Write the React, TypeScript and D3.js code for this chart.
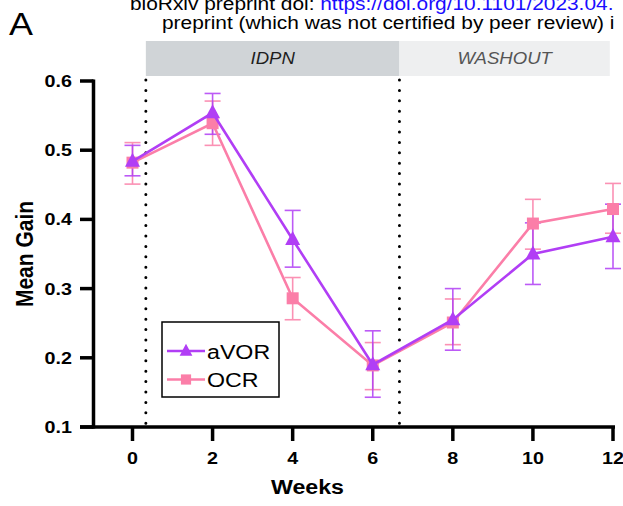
import React from "react";
import * as d3 from "d3";

const weeks = [0, 2, 4, 6, 8, 10, 12];
const avorMean = [0.484, 0.554, 0.371, 0.19, 0.255, 0.35, 0.375];
const avorLow = [0.463, 0.523, 0.331, 0.143, 0.211, 0.306, 0.329];
const avorHigh = [0.507, 0.582, 0.413, 0.239, 0.3, 0.395, 0.422];
const ocrMean = [0.482, 0.539, 0.286, 0.189, 0.251, 0.394, 0.415];
const ocrLow = [0.451, 0.507, 0.255, 0.154, 0.219, 0.357, 0.38];
const ocrHigh = [0.511, 0.571, 0.316, 0.222, 0.285, 0.429, 0.452];
const yTicks = [0.1, 0.2, 0.3, 0.4, 0.5, 0.6];
const xTicks = [0, 2, 4, 6, 8, 10, 12];
const phases = [
  { label: "IDPN", start: 1 / 3, end: 20 / 3 },
  { label: "WASHOUT", start: 20 / 3, end: 11.92 },
];
const dividers = [1 / 3, 20 / 3];

const PURPLE = "#b13ef5";
const PINK = "#fb7ea8";
const FONT = "'Liberation Sans', Arial, sans-serif";
const SX = 1.16;

type TProps = {
  x: number;
  y: number;
  children: React.ReactNode;
  size: number;
  anchor?: string;
  weight?: string;
  style?: string;
  fill?: string;
};

function T({ x, y, children, size, anchor = "start", weight = "normal", style = "normal", fill = "#000" }: TProps) {
  return (
    <text
      transform={`translate(${x},${y}) scale(${SX},1)`}
      fontSize={size}
      textAnchor={anchor}
      fontWeight={weight}
      fontStyle={style}
      fill={fill}
    >
      {children}
    </text>
  );
}

export default function App() {
  const x = d3.scaleLinear().domain([0, 12]).range([132.5, 613]);
  const y = d3.scaleLinear().domain([0.1, 0.6]).range([427, 81]);
  const axisX0 = 93.5;
  const line = d3
    .line<number>()
    .x((_, i) => x(weeks[i]))
    .y((d) => y(d));

  const series = [
    { name: "aVOR", mean: avorMean, low: avorLow, high: avorHigh, color: PURPLE, marker: "tri" },
    { name: "OCR", mean: ocrMean, low: ocrLow, high: ocrHigh, color: PINK, marker: "sq" },
  ];
  const drawOrder = [series[1], series[0]];

  const marker = (m: string, cx: number, cy: number, color: string, s = 1) =>
    m === "tri" ? (
      <path
        d={`M${cx},${cy - 8.5 * s} L${cx + 7.5 * s},${cy + 5.5 * s} L${cx - 7.5 * s},${cy + 5.5 * s} Z`}
        fill={color}
      />
    ) : (
      <rect x={cx - 6 * s} y={cy - 6 * s} width={12 * s} height={12 * s} fill={color} />
    );

  return (
    <svg
      width={623}
      height={506}
      style={{ position: "absolute", left: 0, top: 0, background: "#fff" }}
      fontFamily={FONT}
    >
      <rect width={623} height={506} fill="#fff" />
      {/* header text */}
      <T x={130} y={9.5} size={18}>
        bioRxiv preprint doi: <tspan fill="#1a0dff">https://doi.org/10.1101/2023.04.</tspan>
      </T>
      <T x={162} y={28.5} size={18}>
        preprint (which was not certified by peer review) i
      </T>
      <T x={9} y={35} size={31}>
        A
      </T>

      {/* phase bands */}
      {phases.map((p, i) => (
        <g key={p.label}>
          <rect
            x={x(p.start)}
            y={41}
            width={x(p.end) - x(p.start)}
            height={35}
            fill={i === 0 ? "#d0d4d7" : "#eeeff0"}
          />
          <T
            x={(x(p.start) + x(p.end)) / 2}
            y={63.5}
            anchor="middle"
            size={16}
            style="italic"
            fill={i === 0 ? "#1e1e1e" : "#555"}
          >
            {p.label}
          </T>
        </g>
      ))}

      {/* dotted dividers */}
      {dividers.map((d) => (
        <line
          key={d}
          x1={x(d)}
          x2={x(d)}
          y1={80}
          y2={427}
          stroke="#000"
          strokeWidth={3}
          strokeDasharray="0 10.4"
          strokeLinecap="round"
        />
      ))}

      {/* axes */}
      <line x1={axisX0} x2={axisX0} y1={79.5} y2={428.5} stroke="#000" strokeWidth={3.5} />
      <line x1={80} x2={615} y1={427} y2={427} stroke="#000" strokeWidth={3.5} />
      {yTicks.map((t) => (
        <g key={t}>
          <line x1={80} x2={axisX0} y1={y(t)} y2={y(t)} stroke="#000" strokeWidth={3.5} />
          <T x={72} y={y(t) + 6} anchor="end" size={17} weight="bold">
            {d3.format(".1f")(t)}
          </T>
        </g>
      ))}
      {xTicks.map((t) => (
        <g key={t}>
          <line x1={x(t)} x2={x(t)} y1={427} y2={441} stroke="#000" strokeWidth={3.5} />
          <T x={x(t)} y={464} anchor="middle" size={17} weight="bold">
            {t}
          </T>
        </g>
      ))}
      <T x={307.5} y={493.5} anchor="middle" size={20} weight="bold">
        Weeks
      </T>
      <text
        transform={`translate(33,${(81 + 427) / 2}) rotate(-90) scale(1,${SX})`}
        textAnchor="middle"
        fontSize={21}
        fontWeight="bold"
      >
        Mean Gain
      </text>

      {/* error bars */}
      {drawOrder.map((s) => (
        <g key={s.name + "err"} stroke={s.color} strokeWidth={1.6} opacity={0.85}>
          {weeks.map((w, i) => (
            <g key={w}>
              <line x1={x(w)} x2={x(w)} y1={y(s.low[i])} y2={y(s.high[i])} />
              <line x1={x(w) - 8} x2={x(w) + 8} y1={y(s.low[i])} y2={y(s.low[i])} />
              <line x1={x(w) - 8} x2={x(w) + 8} y1={y(s.high[i])} y2={y(s.high[i])} />
            </g>
          ))}
        </g>
      ))}

      {/* lines & markers */}
      {drawOrder.map((s) => (
        <g key={s.name}>
          <path d={line(s.mean) || ""} fill="none" stroke={s.color} strokeWidth={2.6} />
          {weeks.map((w, i) => (
            <g key={w}>{marker(s.marker, x(w), y(s.mean[i]), s.color)}</g>
          ))}
        </g>
      ))}

      {/* legend */}
      <rect x={162} y={322} width={117} height={75} fill="#fff" stroke="#000" strokeWidth={1.5} />
      {series.map((s, i) => {
        const ly = 351 + i * 28.5;
        return (
          <g key={s.name + "leg"}>
            <line x1={167} x2={205} y1={ly} y2={ly} stroke={s.color} strokeWidth={2.6} />
            {marker(s.marker, 186, ly, s.color, 0.85)}
            <T x={207} y={ly + 7.5} size={20}>
              {s.name}
            </T>
          </g>
        );
      })}
    </svg>
  );
}
